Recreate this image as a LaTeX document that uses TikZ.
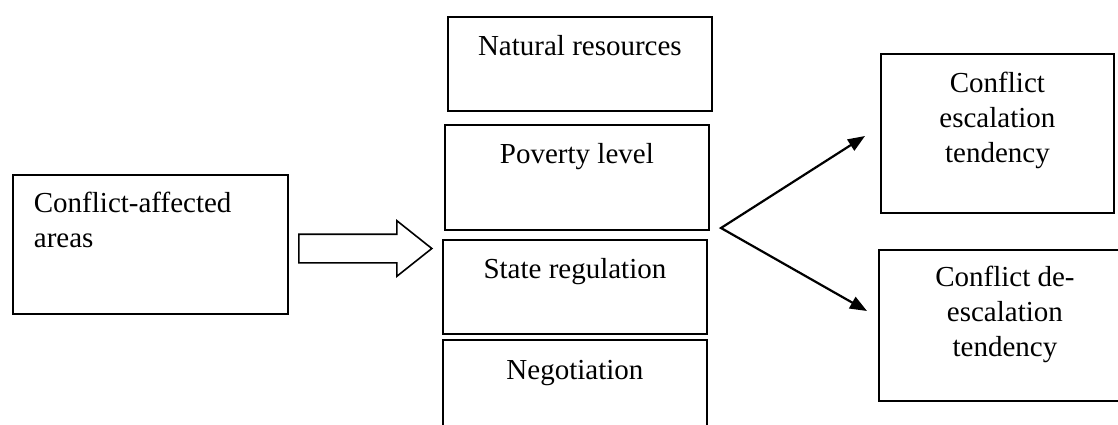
\documentclass[tikz,border=0pt]{standalone}
\usepackage{fontspec}
\setmainfont{Liberation Serif}
\usetikzlibrary{arrows.meta,shapes.arrows}
\begin{document}
\begin{tikzpicture}[x=1pt,y=-1pt,
  box/.style={draw,line width=1.8pt,inner sep=0pt,align=center,anchor=north west,
    font=\fontsize{29}{35}\selectfont},
  fan/.style={line width=2.2pt,{Triangle[length=17pt,width=13pt]}-{Triangle[length=17pt,width=13pt]}}]
\useasboundingbox (0,0) rectangle (1118,425);

\node[box,minimum width=275pt,text width=233pt,inner xsep=21pt,align=left,
  text height=38pt,text depth=101pt] (areas) at (12,174) {Conflict-affected\\areas};

\node[box,minimum width=264pt,text height=39pt,text depth=55pt] (nat) at (447,16) {Natural resources};
\node[box,minimum width=264pt,text height=39pt,text depth=66pt] (pov) at (444,124) {Poverty level};
\node[box,minimum width=264pt,text height=39pt,text depth=55pt] (reg) at (442,239) {State regulation};
\node[box,minimum width=264pt,text height=40pt,text depth=66pt] (neg) at (442,339) {Negotiation};

\node[box,minimum width=233pt,text height=109pt,text depth=50pt] (esc) at (880,53) {Conflict\\escalation\\tendency};
\node[box,minimum width=252pt,text height=107pt,text depth=44pt] (desc) at (878,249) {Conflict de-\\escalation\\tendency};

\node[draw,line width=1.6pt,single arrow,single arrow head extend=13.5pt,single arrow tip angle=77,
  inner sep=0pt,text height=27pt,text depth=0pt,minimum height=133pt,anchor=tail] (flow) at (298,248.5) {};

\coordinate (fork) at (721,228);
\coordinate (upend) at (865,136);
\coordinate (downend) at (867,311);
\draw[fan] (upend) -- (fork) -- (downend);
\end{tikzpicture}
\end{document}
